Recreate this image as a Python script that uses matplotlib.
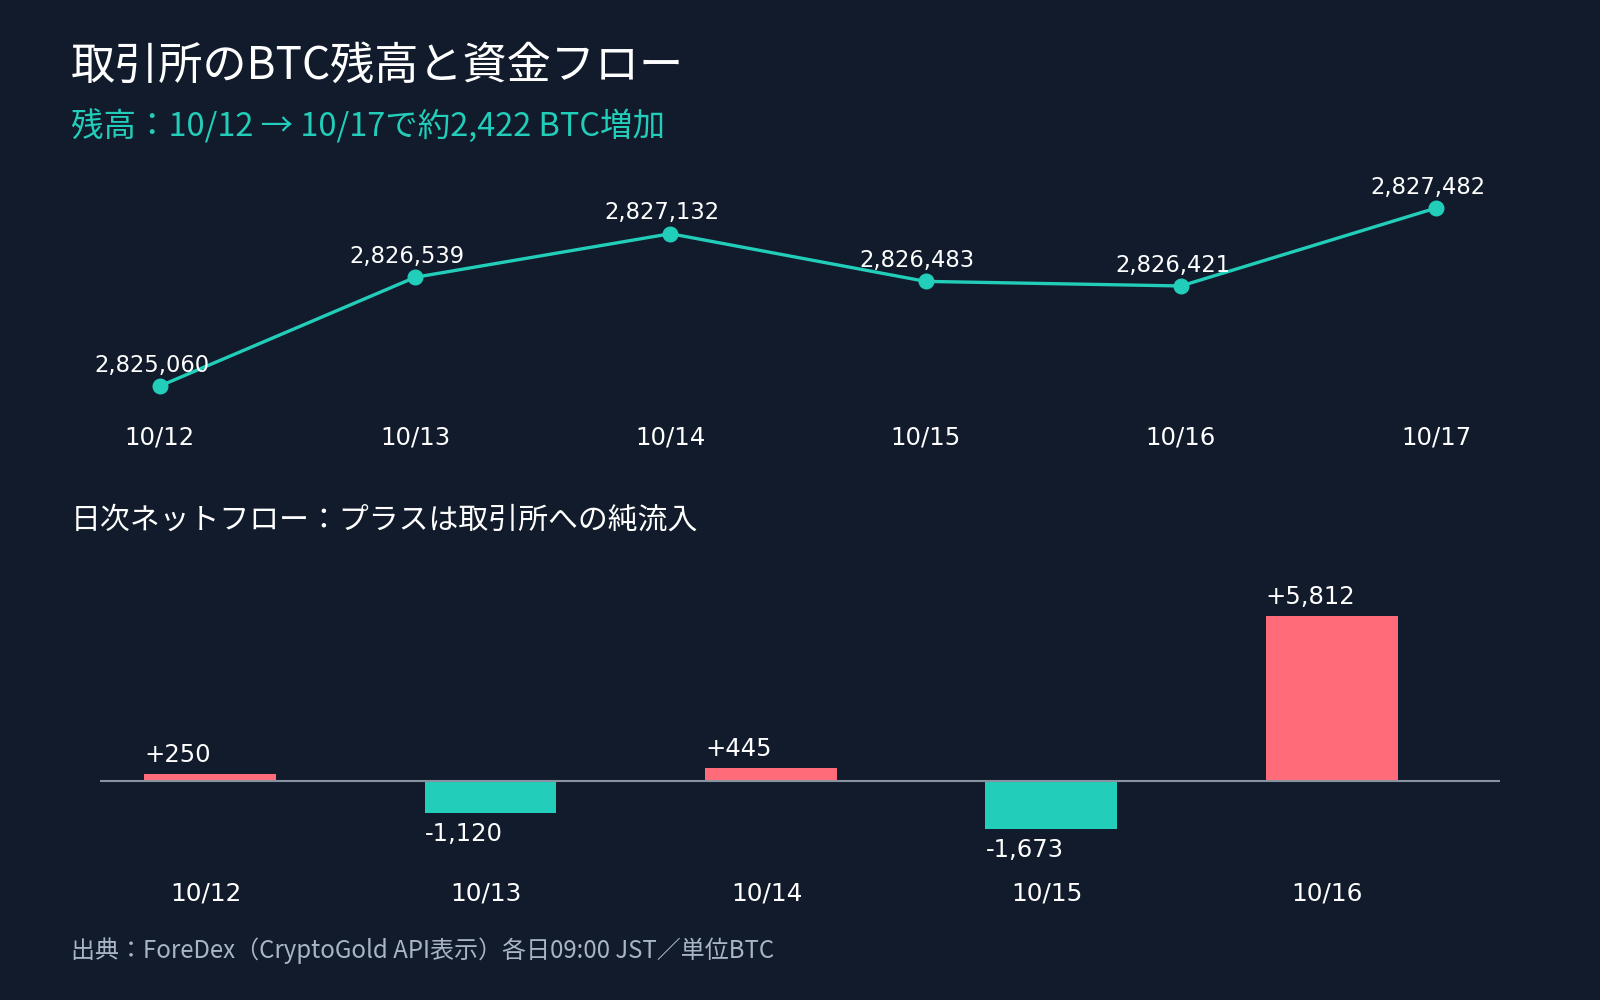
import matplotlib
matplotlib.use("Agg")
import matplotlib.pyplot as plt
from matplotlib.transforms import ScaledTranslation

# data
dates = ['10/12', '10/13', '10/14', '10/15', '10/16', '10/17']
balance = [2825060, 2826539, 2827132, 2826483, 2826421, 2827482]
flow_dates = ['10/12', '10/13', '10/14', '10/15', '10/16']
net_flow = [250, -1120, 445, -1673, 5812]

bg = '#111b2b'
teal = '#22cdb9'
pink = '#ff6b78'
jp = ['Noto Sans CJK JP', 'DejaVu Sans']
num = ['DejaVu Sans']

fig = plt.figure(figsize=(16, 10), dpi=100, facecolor=bg)

fig.text(0.0444, 0.934, '取引所のBTC残高と資金フロー', color='white', fontsize=31.8,
         family=jp, va='center', ha='left')
fig.text(0.0444, 0.874, '残高：10/12 → 10/17で約2,422 BTC増加', color=teal, fontsize=23.4,
         family=jp, va='center', ha='left')
fig.text(0.0444, 0.48, '日次ネットフロー：プラスは取引所への純流入', color='white', fontsize=21.5,
         family=jp, va='center', ha='left')
fig.text(0.0444, 0.049, '出典：ForeDex（CryptoGold API表示）各日09:00 JST／単位BTC', color='#a9b4c4',
         fontsize=17.3, family=jp, va='center', ha='left')

# top: balance line
ax1 = fig.add_axes([0.0625, 0.59, 0.875, 0.25])
ax1.set_facecolor(bg)
x = list(range(len(dates)))
ax1.plot(x, balance, color=teal, lw=2.4, marker='o', ms=10.5, zorder=3)
for xi, v in zip(x, balance):
    ax1.annotate(f'{v:,}', (xi, v), xytext=(-6, 15), textcoords='offset points',
                 ha='center', va='center', color='white', fontsize=16.3, family=num)
ax1.set_xlim(-0.235, 5.25)
ax1.set_ylim(2824733, 2828135)
ax1.set_xticks(x)
ax1.set_xticklabels(dates)
ax1.set_yticks([])
ax1.tick_params(axis='x', length=0, pad=11.5, labelsize=17.6, labelcolor='white')
for s in ax1.spines.values():
    s.set_visible(False)

# bottom: net flow bars
ax2 = fig.add_axes([0.0625, 0.15, 0.875, 0.29])
ax2.set_facecolor(bg)
xb = list(range(len(flow_dates)))
cols = [pink if v > 0 else teal for v in net_flow]
ax2.bar(xb, net_flow, width=0.47, color=cols, zorder=2)
ax2.axhline(0, color='#8892a0', lw=1.5, zorder=3)
for xi, v in zip(xb, net_flow):
    lab = f'+{v:,}' if v > 0 else f'{v:,}'
    off = 19 if v > 0 else -21
    ax2.annotate(lab, (xi - 0.235, v), xytext=(0, off * 0.72), textcoords='offset points',
                 ha='left', va='center', color='white', fontsize=17.5, family=num)
ax2.set_xlim(-0.393, 4.60)
ax2.set_ylim(-2430, 7782)
ax2.set_xticks(xb)
ax2.set_xticklabels(flow_dates)
ax2.set_yticks([])
ax2.tick_params(axis='x', length=0, pad=22.5, labelsize=17.8, labelcolor='white')
shift = ScaledTranslation(-4.5 / 100, 0, fig.dpi_scale_trans)
for lbl in ax2.get_xticklabels():
    lbl.set_transform(lbl.get_transform() + shift)
for s in ax2.spines.values():
    s.set_visible(False)

fig.savefig('out.png', dpi=100, facecolor=bg)
